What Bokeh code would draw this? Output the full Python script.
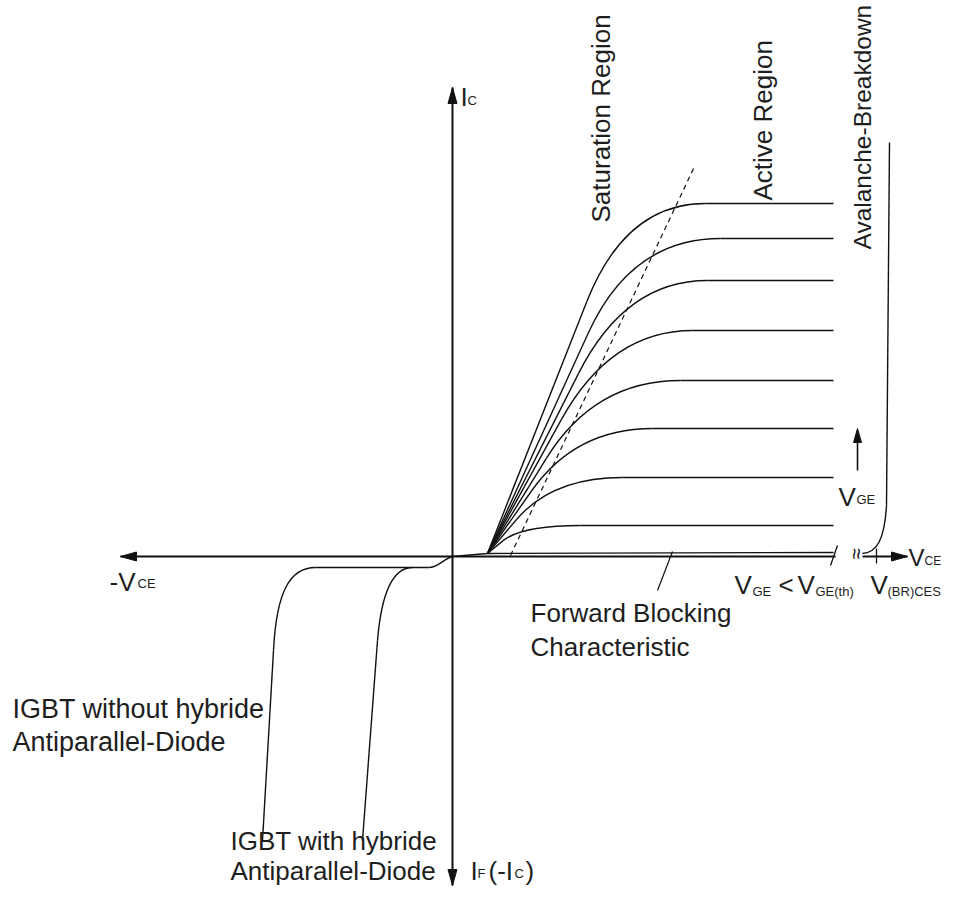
import math
from bokeh.plotting import figure
from bokeh.models import Range1d
from bokeh.core.properties import value
from bokeh.embed import file_html
from bokeh.resources import INLINE

FONT = "Liberation Sans"
INK = "#111111"
TXT = "#1e1e1e"

# ---------------- schematic data (origin = axis crossing, x ~ V_CE, y ~ I_C) ----------------
# output characteristics, one per gate-voltage step
ic_levels = [353, 318, 276, 226, 176, 128, 79, 31]      # saturated collector current
knee_vce = [173, 179, 173, 158, 142, 123, 100, 69]       # where ohmic tangent meets the plateau
sat_vce = [253, 268, 255, 240, 228, 200, 170, 128]       # where the curve becomes flat
ohmic_part = [0.72, 0.70, 0.66, 0.60, 0.55, 0.50, 0.45, 0.45]
curve_start_vce, curve_start_ic = 35, 3
curve_end_vce = 381

# forward blocking characteristic
fwd_vce = [0, 35, 381]
fwd_ic = [0, 3, 4]

# boundary saturation / active region (dashed)
bound_vce = [58, 242]
bound_ic = [1, 390]

# avalanche breakdown
aval_vce = [437, 434]
aval_ic = [414, 51]
aval_bend = [434, 51, 432, 16, 424, 4, 410, 3]   # x0,y0,cx0,cy0,cx1,cy1,x1,y1

# reverse quadrant
rev_bend = [0, 0, -10, -3, -14, -11, -24, -11]
rev_plateau_vce = [-24, -137]
rev_plateau_ic = [-11, -11]
without_bend = [-137, -11, -162, -11, -176, -34, -179, -94]
without_tail_vce = [-179, -190]
without_tail_ic = [-94, -284]
with_bend = [-40, -11, -60, -11, -71, -36, -75, -84]
with_tail_vce = [-75, -90]
with_tail_ic = [-84, -284]

# axes
haxis_segments = [(-332, 383), (410, 455)]
vaxis_ic = [-329, 469]
vge_arrow = [405, 86, 128]   # x, y tail, y tip

p = figure(width=943, height=887, x_range=Range1d(-452, 491), y_range=Range1d(-331, 556),
           output_backend="svg", toolbar_location=None, min_border=0,
           x_axis_location=None, y_axis_location=None)
p.grid.visible = False
p.outline_line_color = None
p.background_fill_color = "white"
p.border_fill_color = "white"

# ---------------- axes ----------------
for a, b in haxis_segments:
    p.line([a, b], [0, 0], line_color=INK, line_width=2)
p.line([0, 0], vaxis_ic, line_color=INK, line_width=2)


def head(tx, ty, dx, dy, L=16, W=4.5):
    nx, ny = -dy, dx
    return ([tx, tx - L * dx + W * nx, tx - L * dx - W * nx],
            [ty, ty - L * dy + W * ny, ty - L * dy - W * ny])


heads = [head(haxis_segments[-1][1], 0, 1, 0), head(haxis_segments[0][0], 0, -1, 0),
         head(0, vaxis_ic[1], 0, 1), head(0, vaxis_ic[0], 0, -1),
         head(vge_arrow[0], vge_arrow[2], 0, 1, L=14, W=4)]
p.patches([h[0] for h in heads], [h[1] for h in heads], fill_color=INK, line_color=INK, line_width=1)
p.line([vge_arrow[0], vge_arrow[0]], [vge_arrow[1], vge_arrow[2] - 10], line_color=INK, line_width=1.6)

# break marks on V_CE axis
p.line([378, 385], [-9, 11], line_color=INK, line_width=1.3)
p.line([424, 424], [-7, 8], line_color=INK, line_width=1.3)
p.text(x=[403], y=[3], text=["≈"], angle=math.pi / 2, text_font=value(FONT),
       text_font_size=value("20px"), text_align="center", text_baseline="middle", text_color=INK)

# ---------------- characteristics ----------------
p.line(fwd_vce, fwd_ic, line_color=INK, line_width=1.3)
lw = 1.4
for lev, kx, sx, f in zip(ic_levels, knee_vce, sat_vce, ohmic_part):
    ax = curve_start_vce + f * (kx - curve_start_vce)
    ay = curve_start_ic + f * (lev - curve_start_ic)
    p.line([curve_start_vce, ax], [curve_start_ic, ay], line_color=INK, line_width=lw)
    p.quadratic(x0=[ax], y0=[ay], x1=[sx], y1=[lev], cx=[kx], cy=[lev], line_color=INK, line_width=lw)
    p.line([sx, curve_end_vce], [lev, lev], line_color=INK, line_width=lw)

p.line(bound_vce, bound_ic, line_color=INK, line_width=1.2, line_dash="5 4")

p.line(aval_vce, aval_ic, line_color=INK, line_width=lw)


def bez(c):
    p.bezier(x0=[c[0]], y0=[c[1]], cx0=[c[2]], cy0=[c[3]], cx1=[c[4]], cy1=[c[5]],
             x1=[c[6]], y1=[c[7]], line_color=INK, line_width=lw)


bez(aval_bend)
bez(rev_bend)
p.line(rev_plateau_vce, rev_plateau_ic, line_color=INK, line_width=lw)
bez(without_bend)
p.line(without_tail_vce, without_tail_ic, line_color=INK, line_width=lw)
bez(with_bend)
p.line(with_tail_vce, with_tail_ic, line_color=INK, line_width=lw)

# leader for forward blocking
p.line([220, 205], [5, -34], line_color=INK, line_width=1.2)


# ---------------- texts ----------------
def label(x, y, s, size, angle=0.0, align="left"):
    p.text(x=[x], y=[y], text=[s], angle=angle, text_font=value(FONT),
           text_font_size=value(f"{size}px"), text_align=align, text_baseline="alphabetic",
           text_color=TXT)


BIG, SUB = 26, 13
# axis names
label(8, 460, "I", BIG); label(15, 456, "C", SUB)
label(-343, -25, "-V", BIG); label(-315, -27, "CE", SUB)
label(456, -1, "V", 24); label(472, -4, "CE", 12)
label(18, -314, "I", BIG); label(25, -317, "F", SUB)
label(36, -314, "(-I", BIG); label(62, -317, "C", SUB); label(73, -314, ")", BIG)
# gate voltage
label(386, 60, "V", BIG); label(404, 57, "GE", SUB)
label(282, -28, "V", BIG); label(300, -35, "GE", SUB)
label(326, -28, "<", BIG)
label(345, -28, "V", BIG); label(363, -35, "GE(th)", SUB)
label(418, -28, "V", BIG); label(435, -35, "(BR)CES", SUB)
# regions
label(148, 334, "Saturation Region", BIG, angle=math.pi / 2)
label(310, 356, "Active Region", BIG, angle=math.pi / 2)
label(410, 307, "Avalanche-Breakdown", 24.5, angle=math.pi / 2)
# annotations
label(78, -56, "Forward Blocking", BIG)
label(78, -90, "Characteristic", BIG)
label(-440, -152, "IGBT without hybride", 27)
label(-440, -185, "Antiparallel-Diode", 27)
label(-222, -284, "IGBT with hybride", BIG)
label(-222, -314, "Antiparallel-Diode", BIG)

open("out.html", "w").write(file_html(p, INLINE))
